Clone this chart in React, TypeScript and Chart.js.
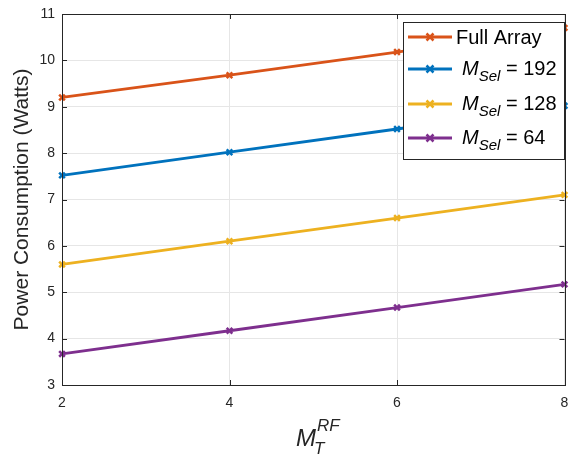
import React, { useEffect, useRef } from "react";
import { Chart, registerables } from "chart.js";

Chart.register(...registerables);

const xValues = [2, 4, 6, 8];
const fullArray = [9.2, 9.68, 10.18, 10.7];
const mSel192 = [7.52, 8.02, 8.52, 9.02];
const mSel128 = [5.6, 6.1, 6.6, 7.1];
const mSel64 = [3.67, 4.17, 4.67, 5.17];

const seriesNames = ["Full Array", "M_Sel = 192", "M_Sel = 128", "M_Sel = 64"];
const seriesColors = ["#D95319", "#0072BD", "#EDB120", "#7E2F8E"];
const yTitle = "Power Consumption (Watts)";
const xTitle = { main: "M", sup: "RF", sub: "T" };

const FONT = "'Liberation Sans', Arial, Helvetica, sans-serif";
const AX = "#262626";

const overlayPlugin = {
  id: "matlabOverlay",
  afterDraw(chart: any) {
    const ctx = chart.ctx as CanvasRenderingContext2D;
    const a = chart.chartArea;
    const xs = chart.scales.x;
    const ys = chart.scales.y;
    ctx.save();
    // box
    ctx.strokeStyle = AX;
    ctx.lineWidth = 1;
    ctx.strokeRect(Math.round(a.left) + 0.5, Math.round(a.top) + 0.5, Math.round(a.right - a.left), Math.round(a.bottom - a.top));
    // inward ticks
    const tl = 5;
    ctx.beginPath();
    ys.ticks.forEach((t: any) => {
      const y = Math.round(ys.getPixelForValue(t.value)) + 0.5;
      ctx.moveTo(a.left, y);
      ctx.lineTo(a.left + tl, y);
      ctx.moveTo(a.right, y);
      ctx.lineTo(a.right - tl, y);
    });
    xs.ticks.forEach((t: any) => {
      const x = Math.round(xs.getPixelForValue(t.value)) + 0.5;
      ctx.moveTo(x, a.bottom);
      ctx.lineTo(x, a.bottom - tl);
      ctx.moveTo(x, a.top);
      ctx.lineTo(x, a.top + tl);
    });
    ctx.stroke();

    // y title
    ctx.fillStyle = AX;
    ctx.font = `21px ${FONT}`;
    ctx.textAlign = "center";
    ctx.textBaseline = "middle";
    ctx.save();
    ctx.translate(22, (a.top + a.bottom) / 2);
    ctx.rotate(-Math.PI / 2);
    ctx.fillText(yTitle, 0, 0);
    ctx.restore();

    // x title
    ctx.textAlign = "left";
    ctx.textBaseline = "alphabetic";
    ctx.font = `italic 24px ${FONT}`;
    const mW = ctx.measureText(xTitle.main).width;
    const x0 = 296;
    ctx.fillText(xTitle.main, x0, 446);
    ctx.font = `italic 17px ${FONT}`;
    ctx.fillText(xTitle.sup, x0 + mW + 1, 431);
    ctx.fillText(xTitle.sub, x0 + mW - 2, 454);

    // legend
    const lx = 403, ly = 22, lw = 161, lh = 137;
    ctx.fillStyle = "#ffffff";
    ctx.fillRect(lx, ly, lw, lh);
    ctx.strokeStyle = AX;
    ctx.lineWidth = 1;
    ctx.strokeRect(lx + 0.5, ly + 0.5, lw, lh);
    const rowY = [37, 69, 104, 138];
    seriesNames.forEach((name, i) => {
      const y = rowY[i];
      const col = seriesColors[i];
      ctx.strokeStyle = col;
      ctx.lineWidth = 3;
      ctx.beginPath();
      ctx.moveTo(408, y);
      ctx.lineTo(452, y);
      ctx.stroke();
      // marker
      const r = 3.5;
      ctx.lineWidth = 2.5;
      ctx.beginPath();
      ctx.moveTo(430 - r, y - r);
      ctx.lineTo(430 + r, y + r);
      ctx.moveTo(430 - r, y + r);
      ctx.lineTo(430 + r, y - r);
      ctx.stroke();
      ctx.fillStyle = "#000000";
      ctx.textBaseline = "middle";
      if (name.indexOf("_") < 0) {
        ctx.font = `20px ${FONT}`;
        ctx.fillText(name, 456, y + 1);
      } else {
        const main = name.split("_")[0];
        const restAll = name.split("_")[1];
        const sp = restAll.indexOf(" ");
        const sub = restAll.slice(0, sp);
        const rest = restAll.slice(sp);
        let x = 462;
        ctx.font = `italic 20px ${FONT}`;
        ctx.fillText(main, x, y);
        x += ctx.measureText(main).width;
        ctx.font = `italic 15px ${FONT}`;
        ctx.fillText(sub, x, y + 8);
        x += ctx.measureText(sub).width;
        ctx.font = `20px ${FONT}`;
        ctx.fillText(rest, x, y);
      }
    });
    ctx.restore();
  },
};

export default function App() {
  const ref = useRef<HTMLCanvasElement | null>(null);
  useEffect(() => {
    document.body.style.margin = "0";
    const seriesData = [fullArray, mSel192, mSel128, mSel64];
    const chart = new Chart(ref.current as HTMLCanvasElement, {
      type: "line",
      data: {
        datasets: seriesData.map((vals, i) => ({
          label: seriesNames[i],
          data: vals.map((v, j) => ({ x: xValues[j], y: v })),
          borderColor: seriesColors[i],
          backgroundColor: seriesColors[i],
          borderWidth: 2.8,
          pointStyle: "crossRot",
          pointRadius: 4,
          pointBorderWidth: 2.5,
          pointBorderColor: seriesColors[i],
          clip: false as any,
          tension: 0,
        })),
      },
      options: {
        responsive: false,
        devicePixelRatio: 1,
        animation: false,
        layout: { padding: { top: 14, right: 5, left: 0, bottom: 0 } },
        plugins: { legend: { display: false }, tooltip: { enabled: false } },
        scales: {
          x: {
            type: "linear",
            min: 2,
            max: 8,
            ticks: { stepSize: 2, padding: 10, color: AX, font: { family: FONT, size: 14 } },
            grid: { color: "#e6e6e6", drawTicks: false },
            border: { display: false },
            afterFit: (s: any) => { s.height = 70; s.paddingLeft = 0; s.paddingRight = 0; },
          },
          y: {
            min: 3,
            max: 11,
            ticks: { stepSize: 1, padding: 7, color: AX, font: { family: FONT, size: 14 } },
            grid: { color: "#e6e6e6", drawTicks: false },
            border: { display: false },
            afterFit: (s: any) => { s.width = 62; s.paddingTop = 0; s.paddingBottom = 0; },
          },
        },
      },
      plugins: [overlayPlugin],
    } as any);
    return () => chart.destroy();
  }, []);
  return <canvas ref={ref} width={571} height={455} style={{ display: "block", width: 571, height: 455 }} />;
}
